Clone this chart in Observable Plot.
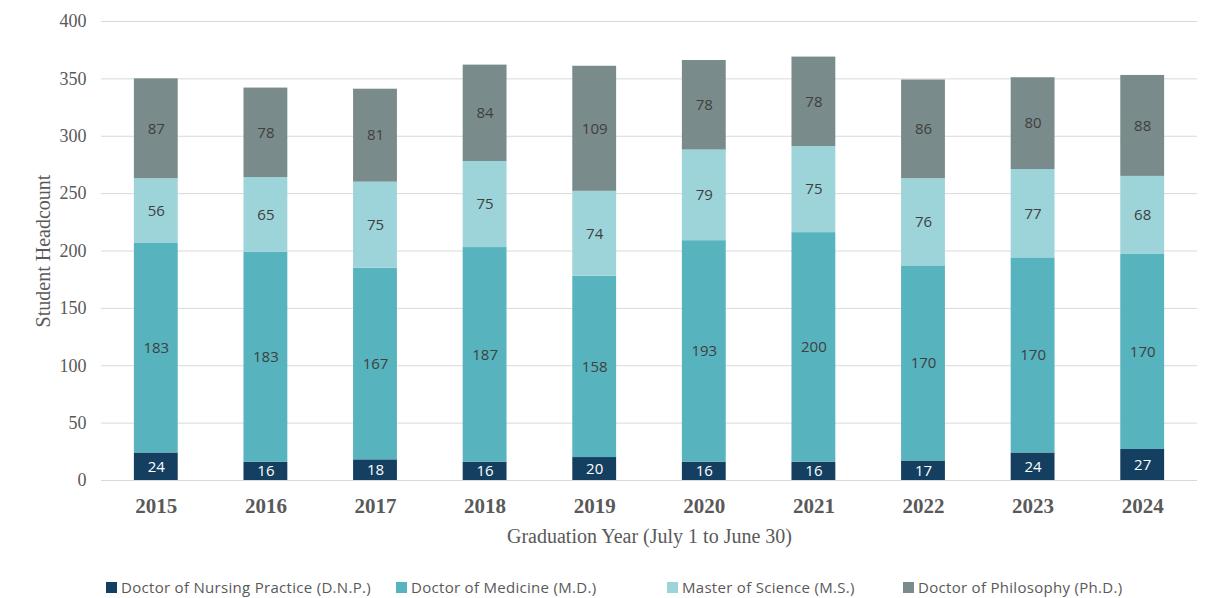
<!DOCTYPE html>
<html>
<head>
<meta charset="utf-8">
<script src="https://cdn.jsdelivr.net/npm/d3@7"></script>
<script src="https://cdn.jsdelivr.net/npm/@observablehq/plot@0.6"></script>
<style>
  html, body { margin: 0; padding: 0; background: #fff; }
  #wrap { position: relative; width: 1209px; height: 598px; }
  #legend { position: absolute; left: 0; top: 578px; width: 1209px; height: 20px;
    font-family: "Open Sans", sans-serif; font-size: 15px; letter-spacing: 0.3px; color: #595959; }
  .item { position: absolute; top: 0; display: flex; align-items: center; height: 18px; white-space: nowrap; }
  .sw { width: 11px; height: 11px; margin-right: 4px; }
</style>
</head>
<body>
<div id="wrap"><div id="chart"></div><div id="legend"></div></div>
<script>
const years = ["2015","2016","2017","2018","2019","2020","2021","2022","2023","2024"];
const seriesNames = ["Doctor of Nursing Practice (D.N.P.)", "Doctor of Medicine (M.D.)", "Master of Science (M.S.)", "Doctor of Philosophy (Ph.D.)"];
const seriesColors = ["#143f61", "#57b3bd", "#9dd4da", "#7a8b8b"];
const dnp = [24, 16, 18, 16, 20, 16, 16, 17, 24, 27];
const md  = [183, 183, 167, 187, 158, 193, 200, 170, 170, 170];
const ms  = [56, 65, 75, 75, 74, 79, 75, 76, 77, 68];
const phd = [87, 78, 81, 84, 109, 78, 78, 86, 80, 88];
const yTicks = [0, 50, 100, 150, 200, 250, 300, 350, 400];
const legendX = [106, 396, 667, 903];

const seriesValues = [dnp, md, ms, phd];
const data = [];
seriesNames.forEach((s, i) => years.forEach((y, j) => data.push({year: y, series: s, value: seriesValues[i][j]})));
const dnpData = data.filter(d => d.series === seriesNames[0]);

const serif = "'Liberation Serif', 'Times New Roman', serif";
const sans = "'Open Sans', sans-serif";

const chart = Plot.plot({
  width: 1209,
  height: 560,
  marginTop: 21,
  marginBottom: 80,
  marginLeft: 101,
  marginRight: 12,
  x: {domain: years, paddingInner: 0.6, paddingOuter: 0.3, round: false, label: null},
  y: {domain: [0, 400], label: null},
  color: {domain: seriesNames, range: seriesColors},
  marks: [
    Plot.gridY(yTicks, {stroke: "#d9d9d9", strokeOpacity: 1, strokeWidth: 1}),
    Plot.barY(data, {x: "year", y: "value", fill: "series"}),
    Plot.text(data, Plot.stackY({x: "year", y: "value", z: "series",
      text: d => d.series === seriesNames[0] ? "" : String(d.value),
      fill: "#404040", fontFamily: sans, fontSize: 15})),
    Plot.text(dnpData, Plot.stackY({x: "year", y: "value", z: "series",
      text: d => String(d.value), fill: "white", fontFamily: sans, fontSize: 15})),
    Plot.axisY({ticks: yTicks, tickSize: 0, tickPadding: 15, fontFamily: serif, fontSize: 18, fill: "#595959", label: null}),
    Plot.axisX({tickSize: 0, tickPadding: 18, fontFamily: serif, fontSize: 21, fontWeight: "bold", fill: "#595959", label: null}),
    Plot.text(["Student Headcount"], {frameAnchor: "left", dx: -58, rotate: -90, textAnchor: "middle", fontFamily: serif, fontSize: 20, fill: "#595959"}),
    Plot.text(["Graduation Year (July 1 to June 30)"], {frameAnchor: "bottom", dy: 62, fontFamily: serif, fontSize: 20, fill: "#595959"})
  ]
});
document.getElementById("chart").appendChild(chart);

const legend = document.getElementById("legend");
seriesNames.forEach((s, i) => {
  const item = document.createElement("div");
  item.className = "item";
  item.style.left = legendX[i] + "px";
  const sw = document.createElement("span");
  sw.className = "sw";
  sw.style.background = seriesColors[i];
  const t = document.createElement("span");
  t.textContent = s;
  item.appendChild(sw);
  item.appendChild(t);
  legend.appendChild(item);
});
</script>
</body>
</html>
